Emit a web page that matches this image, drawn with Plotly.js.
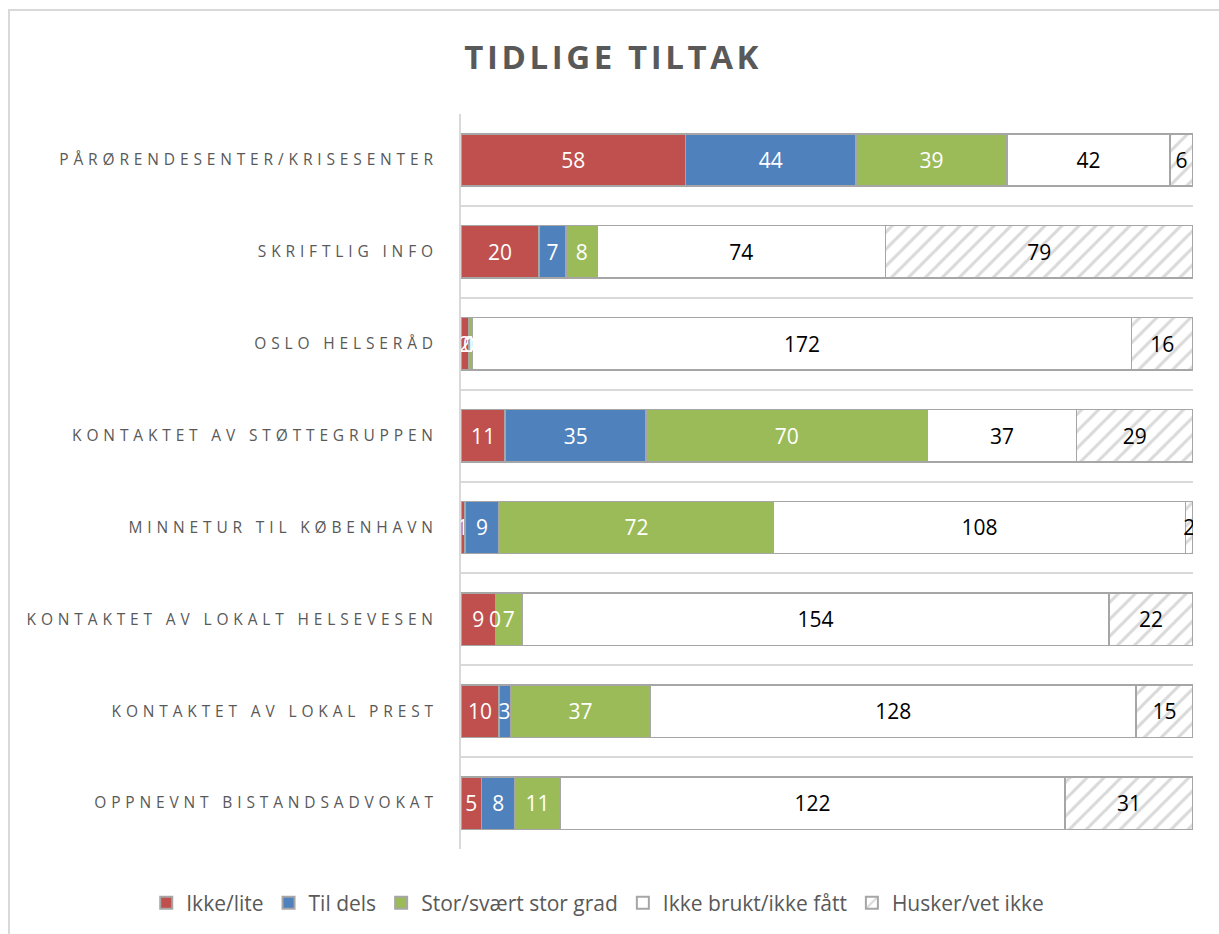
<!DOCTYPE html>
<html>
<head>
<meta charset="utf-8">
<script src="https://cdn.plot.ly/plotly-3.0.1.min.js"></script>
<style>
html, body { margin: 0; padding: 0; background: #fff; }
#wrap { position: relative; width: 1219px; height: 934px; overflow: hidden; }
#chart { width: 1219px; height: 934px; }
#frame { position: absolute; left: 8px; top: 9px; right: -10px; bottom: -10px; border-left: 2px solid #d9d9d9; border-top: 2px solid #d9d9d9; pointer-events: none; }
.ytick text { letter-spacing: 4.85px; }
.gtitle { letter-spacing: 3.6px; }
</style>
</head>
<body>
<div id="wrap"><div id="chart"></div><div id="frame"></div></div>
<script>
const categories = [
  "PÅRØRENDESENTER/KRISESENTER",
  "SKRIFTLIG INFO",
  "OSLO HELSERÅD",
  "KONTAKTET AV STØTTEGRUPPEN",
  "MINNETUR TIL KØBENHAVN",
  "KONTAKTET AV LOKALT HELSEVESEN",
  "KONTAKTET AV LOKAL PREST",
  "OPPNEVNT BISTANDSADVOKAT"
];
const ikkeLite     = [58, 20, 2, 11, 1, 9, 10, 5];
const tilDels      = [44, 7, 0, 35, 9, 0, 3, 8];
const storGrad     = [39, 8, 1, 70, 72, 7, 37, 11];
const ikkeBrukt    = [42, 74, 172, 37, 108, 154, 128, 122];
const huskerIkke   = [6, 79, 16, 29, 2, 22, 15, 31];
const seriesNames  = ["Ikke/lite", "Til dels", "Stor/svært stor grad", "Ikke brukt/ikke fått", "Husker/vet ikke"];
const seriesValues = [ikkeLite, tilDels, storGrad, ikkeBrukt, huskerIkke];

const labelFont = "Open Sans, sans-serif";
const borderCol = "#a6a6a6";
function mk(name, vals, color, txtColor, pattern) {
  const m = { color: color, line: { color: borderCol, width: 1.5 } };
  if (pattern) m.pattern = { shape: "/", fgcolor: "#d9d9d9", bgcolor: "#ffffff", size: 12, solidity: 0.25 };
  return {
    type: "bar", orientation: "h", name: name,
    y: categories, x: vals, text: vals.map(String),
    texttemplate: "%{text}", textposition: "inside", insidetextanchor: "middle",
    textangle: 0, constraintext: "none",
    textfont: { family: labelFont, size: 21, color: txtColor },
    marker: m, hoverinfo: "x+y+name"
  };
}
const data = [
  mk(seriesNames[0], ikkeLite, "#c0504d", "#ffffff"),
  mk(seriesNames[1], tilDels, "#4f81bd", "#ffffff"),
  mk(seriesNames[2], storGrad, "#9bbb59", "#ffffff"),
  mk(seriesNames[3], ikkeBrukt, "#ffffff", "#000000"),
  mk(seriesNames[4], huskerIkke, "#ffffff", "#000000", true)
];

// Labels for zero-size segments (Plotly does not draw text on empty bars)
const annotations = [];
categories.forEach((cat, i) => {
  const total = seriesValues.reduce((s, arr) => s + arr[i], 0);
  let cum = 0;
  seriesValues.forEach((arr, k) => {
    if (arr[i] === 0) {
      annotations.push({ x: cum / total * 100, y: cat, xref: "x", yref: "y", text: "0", showarrow: false,
        xanchor: "center", yanchor: "middle", font: { family: labelFont, size: 21, color: k < 3 ? "#ffffff" : "#000000" } });
    }
    cum += arr[i];
  });
});

const layout = {
  width: 1219, height: 934,
  margin: { l: 461, r: 26, t: 114, b: 84 },
  barmode: "stack", barnorm: "percent", bargap: 0.43,
  paper_bgcolor: "#ffffff", plot_bgcolor: "#ffffff",
  title: { text: "<b>TIDLIGE TILTAK</b>", x: 0.503, xanchor: "center", y: 0.938, yanchor: "middle",
           font: { family: "Open Sans, sans-serif", size: 33, color: "#595959" } },
  xaxis: { range: [0, 100], showgrid: false, zeroline: false, showticklabels: false, showline: false, fixedrange: true },
  yaxis: { autorange: "reversed", type: "category", tickson: "boundaries", showgrid: true, gridcolor: "#d9d9d9", gridwidth: 2,
           showline: true, linecolor: "#d9d9d9", linewidth: 2, ticks: "", ticklabelstandoff: 18,
           tickfont: { family: "Open Sans, sans-serif", size: 15.5, color: "#595959" }, automargin: false },
  showlegend: true,
  legend: { orientation: "h", xref: "paper", x: -0.43, xanchor: "left", yref: "paper", y: -0.072, yanchor: "middle",
            font: { family: "Open Sans, sans-serif", size: 21, color: "#595959" }, traceorder: "normal",
            itemwidth: 30, itemsizing: "constant" },
  annotations: annotations,
  uniformtext: { mode: "show", minsize: 18 }
};
Plotly.newPlot("chart", data, layout, { displayModeBar: false, staticPlot: true });
</script>
</body>
</html>
